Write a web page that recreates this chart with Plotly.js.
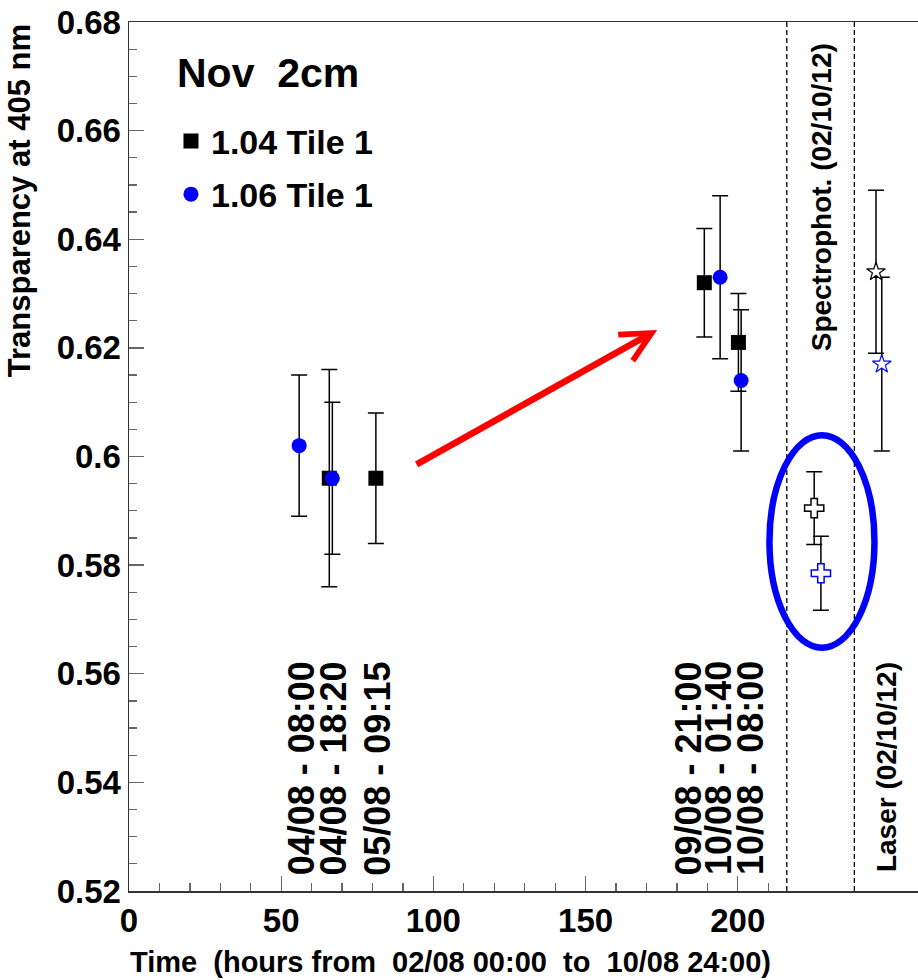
<!DOCTYPE html>
<html>
<head>
<meta charset="utf-8">
<script src="https://cdn.plot.ly/plotly-3.0.1.min.js"></script>
<style>
  html, body { margin: 0; padding: 0; background: #fff; }
  #chart { width: 918px; height: 980px; }
</style>
</head>
<body>
<div id="chart"></div>
<script>
// ---- data ----
const blackHours  = [65.8, 81.1, 189.0, 200.2];
const blackValues = [0.596, 0.596, 0.632, 0.621];
const blackErrors = [0.020, 0.012, 0.010, 0.009];

const blueHours  = [55.9, 66.8, 194.2, 201.1];
const blueValues = [0.602, 0.596, 0.633, 0.614];
const blueErrors = [0.013, 0.014, 0.015, 0.013];

const spectroHours  = [225.1, 227.3];
const spectroValues = [0.5905, 0.5785];
const spectroErrors = [0.0067, 0.0068];

const laserHours  = [245.4, 247.3];
const laserValues = [0.634, 0.617];
const laserErrors = [0.015, 0.016];

const seriesNames = ['1.04 Tile 1', '1.06 Tile 1'];
const legendTitle = 'Nov\u00a0 2cm';

const dateLabels = ['04/08 - 08:00', '04/08 - 18:20', '05/08 - 09:15',
                    '09/08 - 21:00', '10/08 - 01:40', '10/08 - 08:00'];
const dateLabelHours = [56.5, 67.1, 81.6, 183.7, 193.7, 204.2];

const xTickVals = [0, 50, 100, 150, 200];
const xTickText = ['0', '50', '100', '150', '200'];
const xMinorVals = [10, 20, 30, 40, 60, 70, 80, 90, 110, 120, 130, 140, 160, 170, 180, 190, 210];
const yTickVals = [0.52, 0.54, 0.56, 0.58, 0.60, 0.62, 0.64, 0.66, 0.68];
const yTickText = ['0.52', '0.54', '0.56', '0.58', '0.6', '0.62', '0.64', '0.66', '0.68'];

const sectionBounds = [216.1, 238.3];           // dashed separators (hours)
const sectionTitles = ['Spectrophot. (02/10/12)', 'Laser (02/10/12)'];
const sectionTitleHours = [227.4, 248.7];
const highlightBox = {x: [210.4, 244.9], y: [0.5648, 0.6039]}; // blue ellipse
const arrowFrom = [94.0, 0.5984];
const arrowTo   = [173.5, 0.6233];

const xTitle = 'Time\u00a0 (hours from\u00a0 02/08 00:00\u00a0 to\u00a0 10/08 24:00)';
const yTitle = 'Transparency at 405 nm';

// ---- styling ----
const FONT = 'Liberation Sans, Arial, Helvetica, sans-serif';
const BLUE = '#0000ff';
const errStyle = (arr) => ({type: 'data', array: arr, visible: true, color: '#000', thickness: 1.5, width: 8});

const traces = [
  {
    x: blackHours, y: blackValues, error_y: errStyle(blackErrors),
    mode: 'markers', type: 'scatter', name: seriesNames[0], legendgroup: 'a',
    marker: {symbol: 'square', size: 15, color: '#000'}
  },
  {
    x: blueHours, y: blueValues, error_y: errStyle(blueErrors),
    mode: 'markers', type: 'scatter', name: seriesNames[1], legendgroup: 'b',
    marker: {symbol: 'circle', size: 15, color: BLUE}
  },
  {
    x: spectroHours, y: spectroValues, error_y: errStyle(spectroErrors),
    mode: 'markers', type: 'scatter', showlegend: false,
    marker: {symbol: 'cross', size: 16, color: '#fff', line: {color: ['#000', BLUE], width: 1.5}}
  },
  {
    x: laserHours, y: laserValues, error_y: errStyle(laserErrors),
    mode: 'markers', type: 'scatter', showlegend: false,
    marker: {symbol: 'star', size: 14, color: '#fff', line: {color: ['#000', BLUE], width: 1.2}}
  }
];

const annotations = [];
dateLabels.forEach((t, i) => annotations.push({
  text: t, x: dateLabelHours[i], y: 0.5227, xref: 'x', yref: 'y',
  xanchor: 'center', yanchor: 'bottom', textangle: -90, showarrow: false, borderpad: 0,
  font: {family: FONT, size: 36, weight: 'bold', color: '#000'}
}));
annotations.push({
  text: sectionTitles[0], x: sectionTitleHours[0], y: 0.6763, xref: 'x', yref: 'y',
  xanchor: 'center', yanchor: 'top', textangle: -90, showarrow: false, borderpad: 0,
  font: {family: FONT, size: 28, weight: 'bold', color: '#000'}
});
annotations.push({
  text: sectionTitles[1], x: sectionTitleHours[1], y: 0.5233, xref: 'x', yref: 'y',
  xanchor: 'center', yanchor: 'bottom', textangle: -90, showarrow: false, borderpad: 0,
  font: {family: FONT, size: 28, weight: 'bold', color: '#000'}
});
annotations.push({
  text: '', x: arrowTo[0], y: arrowTo[1], ax: arrowFrom[0], ay: arrowFrom[1],
  xref: 'x', yref: 'y', axref: 'x', ayref: 'y', showarrow: true,
  arrowhead: 5, arrowsize: 0.9, arrowwidth: 6.5, arrowcolor: '#ff0000'
});
annotations.push({
  text: legendTitle, xref: 'paper', yref: 'paper', x: 0.0596, y: 0.9413,
  xanchor: 'left', yanchor: 'middle', showarrow: false, borderpad: 0,
  font: {family: FONT, size: 41, weight: 'bold', color: '#000'}
});
annotations.push({
  text: xTitle, xref: 'paper', yref: 'paper', x: 0, y: -0.0817,
  xanchor: 'left', yanchor: 'middle', showarrow: false, borderpad: 0,
  font: {family: FONT, size: 29, weight: 'bold', color: '#000'}
});
annotations.push({
  text: yTitle, xref: 'paper', yref: 'paper', x: -0.1394, y: 0.998,
  xanchor: 'center', yanchor: 'top', textangle: -90, showarrow: false, borderpad: 0,
  font: {family: FONT, size: 31, weight: 'bold', color: '#000'}
});

const shapes = [];
sectionBounds.forEach(b => shapes.push({
  type: 'line', xref: 'x', yref: 'paper', x0: b, x1: b, y0: 0, y1: 1,
  line: {color: '#000', width: 1.3, dash: '5px,3px'}
}));
shapes.push({
  type: 'circle', xref: 'x', yref: 'y',
  x0: highlightBox.x[0], x1: highlightBox.x[1], y0: highlightBox.y[0], y1: highlightBox.y[1],
  line: {color: BLUE, width: 6.5}
});

const layout = {
  width: 918, height: 980,
  margin: {l: 129, r: 0, t: 22, b: 89},
  paper_bgcolor: '#fff', plot_bgcolor: '#fff',
  font: {family: FONT, color: '#000'},
  showlegend: true,
  legend: {
    x: 0.0532, y: 0.896, xanchor: 'left', yanchor: 'top',
    bgcolor: 'rgba(0,0,0,0)', borderwidth: 0,
    traceorder: 'grouped', tracegroupgap: 6,
    font: {family: FONT, size: 34, weight: 'bold', color: '#000'}
  },
  xaxis: {
    range: [0, 259.2], showgrid: false, zeroline: false,
    showline: true, linecolor: '#333', linewidth: 1.5, mirror: true,
    ticks: 'inside', ticklen: 15, tickwidth: 1.3, tickcolor: '#666',
    tickmode: 'array', tickvals: xTickVals, ticktext: xTickText,
    tickfont: {family: FONT, size: 33, weight: 'bold', color: '#000'},
    minor: {tickmode: 'array', tickvals: xMinorVals, ticks: 'inside', ticklen: 8, tickwidth: 1.3, tickcolor: '#666', showgrid: false}
  },
  yaxis: {
    range: [0.52, 0.68], showgrid: false, zeroline: false,
    showline: true, linecolor: '#333', linewidth: 1.5, mirror: false,
    ticks: 'inside', ticklen: 15, tickwidth: 1.3, tickcolor: '#666',
    tickmode: 'array', tickvals: yTickVals, ticktext: yTickText,
    tickfont: {family: FONT, size: 33, weight: 'bold', color: '#000'},
    minor: {dtick: 0.005, tick0: 0.52, ticks: 'inside', ticklen: 8, tickwidth: 1.3, tickcolor: '#666', showgrid: false}
  },
  annotations: annotations,
  shapes: shapes
};

Plotly.newPlot('chart', traces, layout, {displayModeBar: false, staticPlot: true});
</script>
</body>
</html>
